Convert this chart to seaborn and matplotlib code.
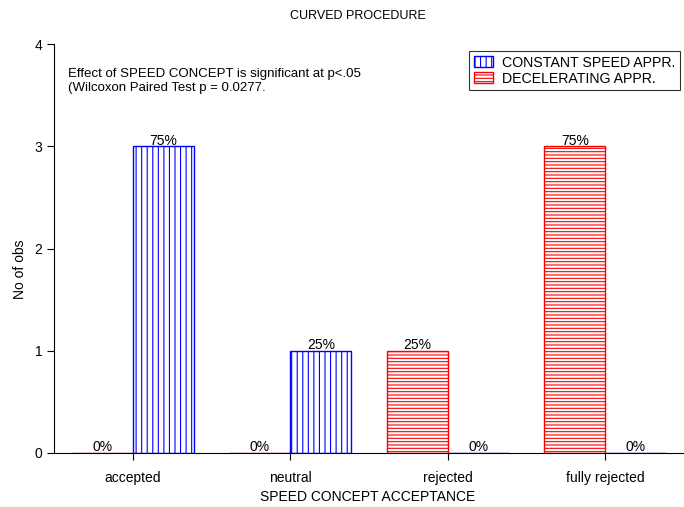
import matplotlib
matplotlib.use("Agg")
import matplotlib.pyplot as plt
import matplotlib.patches as mpatches
import pandas as pd
import seaborn as sns

# data
categories = ["accepted", "neutral", "rejected", "fully rejected"]
constant_counts = [3, 1, 0, 0]
decel_counts = [0, 0, 1, 3]
constant_name = "CONSTANT SPEED APPR."
decel_name = "DECELERATING APPR."

df = pd.DataFrame({
    "category": categories * 2,
    "approach": [decel_name] * 4 + [constant_name] * 4,
    "count": decel_counts + constant_counts,
})

sns.set_style("white")
plt.rcParams["font.family"] = ["Liberation Sans", "DejaVu Sans"]
plt.rcParams["hatch.linewidth"] = 0.8
plt.rcParams["text.color"] = "black"
plt.rcParams["axes.labelcolor"] = "black"

fig = plt.figure(figsize=(6.84, 5.07), dpi=100)
ax = fig.add_axes([54 / 684, 54 / 507, 630 / 684, 409 / 507])

hue_order = [decel_name, constant_name]
styles = {decel_name: ("red", "#8b0000", "-----"), constant_name: ("blue", "#00008b", "|||")}

sns.barplot(data=df, x="category", y="count", hue="approach", hue_order=hue_order,
            order=categories, width=0.775, ax=ax, legend=False)

# hatch the bars and label them with percentages
for name, container in zip(hue_order, ax.containers):
    color, zero_color, hatch = styles[name]
    vals = df[df["approach"] == name]["count"].tolist()
    total = sum(vals)
    for bar, v in zip(container, vals):
        bar.set_facecolor("white")
        bar.set_edgecolor(color if v > 0 else zero_color)
        bar.set_hatch(hatch)
        bar.set_linewidth(1.0)
    ax.bar_label(container, labels=[f"{v / total * 100:.0f}%" for v in vals],
                 padding=-1, fontsize=10, color="black")

ax.set_xlim(-0.5, 3.5)
ax.set_ylim(0, 4)
ax.set_yticks([0, 1, 2, 3, 4])
sns.despine(ax=ax)
for side in ["left", "bottom"]:
    ax.spines[side].set_color("black")
    ax.spines[side].set_linewidth(0.8)
ax.tick_params(axis="both", direction="out", length=5, width=0.8, colors="black",
               labelsize=10, bottom=True, left=True)
ax.tick_params(axis="x", pad=8)

ax.set_xlabel("SPEED CONCEPT ACCEPTANCE", fontsize=10, va="center")
ax.set_ylabel("No of obs", fontsize=10, va="center")
ax.xaxis.set_label_coords(0.498, -0.108)
ax.yaxis.set_label_coords(-0.054, 0.45)

fig.text(358 / 684, 1 - 16 / 507, "CURVED PROCEDURE", ha="center", va="center", fontsize=9)

ax.text(0.022, 0.942,
        "Effect of SPEED CONCEPT is significant at p<.05\n(Wilcoxon Paired Test p = 0.0277.",
        transform=ax.transAxes, ha="left", va="top", fontsize=9.5, linespacing=1.25)

handles = [
    mpatches.Patch(facecolor="white", edgecolor="blue", hatch="|||", label=constant_name),
    mpatches.Patch(facecolor="white", edgecolor="red", hatch="-----", label=decel_name),
]
leg = ax.legend(handles=handles, loc="upper right", bbox_to_anchor=(0.993, 0.982),
                fontsize=10.2, frameon=True, fancybox=False, borderpad=0.3,
                handlelength=1.4, handleheight=0.85, handletextpad=0.6,
                labelspacing=0.15, borderaxespad=0)
leg.get_frame().set_edgecolor("black")
leg.get_frame().set_linewidth(0.8)

fig.savefig("out.png", dpi=100)
